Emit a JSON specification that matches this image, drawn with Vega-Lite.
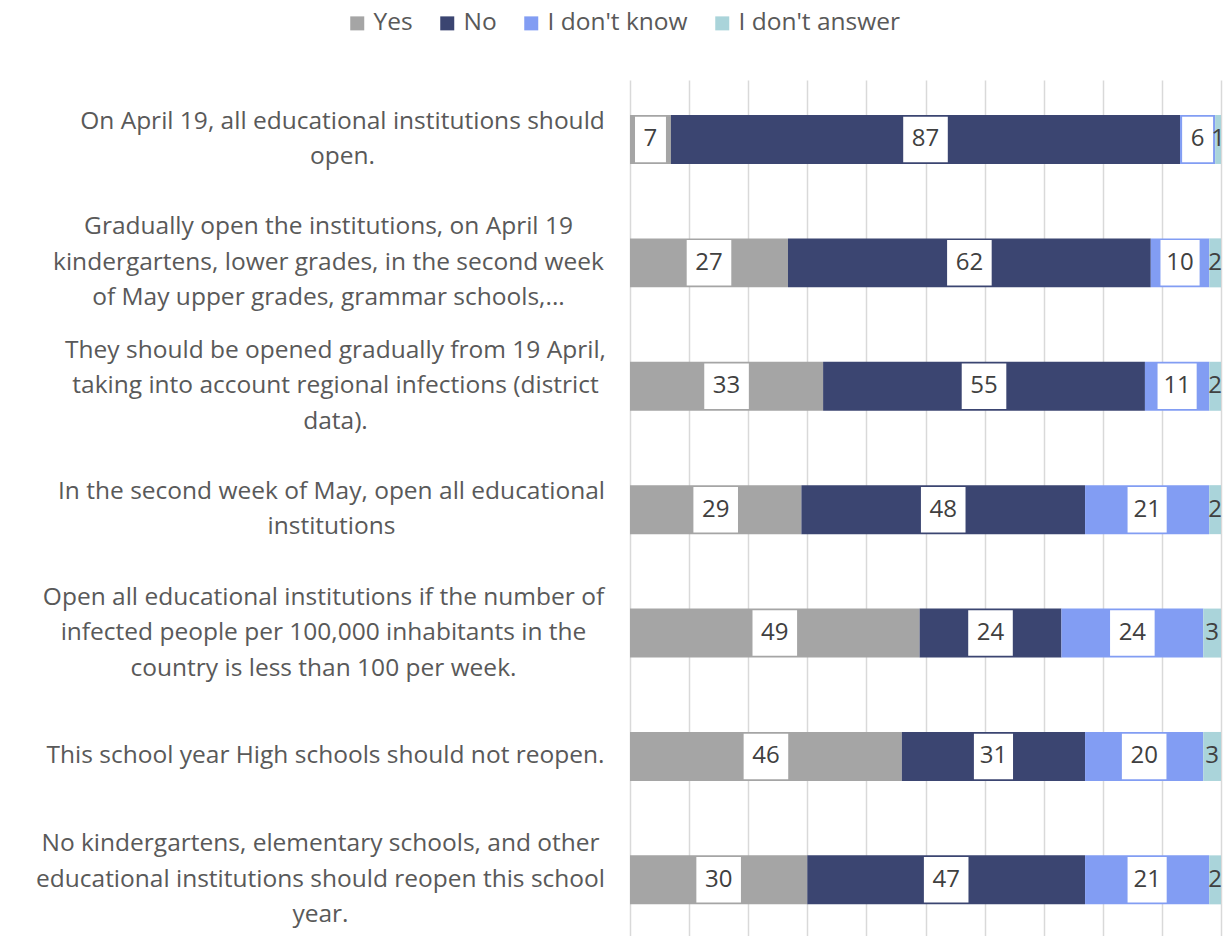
{
  "$schema": "https://vega.github.io/schema/vega-lite/v6.json",
  "width": 591,
  "height": 856,
  "autosize": {"type": "none"},
  "padding": {"left": 630, "top": 80, "right": 3, "bottom": 0},
  "background": "white",
  "config": {"view": {"stroke": null}, "font": "Open Sans"},
  "data": {
    "values": [
      {"question": "On April 19, all educational institutions should|open.", "answer": "Yes", "idx": 1, "value": 7},
      {"question": "On April 19, all educational institutions should|open.", "answer": "No", "idx": 2, "value": 87},
      {"question": "On April 19, all educational institutions should|open.", "answer": "I don't know", "idx": 3, "value": 6},
      {"question": "On April 19, all educational institutions should|open.", "answer": "I don't answer", "idx": 4, "value": 1},
      {"question": "Gradually open the institutions, on April 19|kindergartens, lower grades, in the second week|of May upper grades, grammar schools,...", "answer": "Yes", "idx": 1, "value": 27},
      {"question": "Gradually open the institutions, on April 19|kindergartens, lower grades, in the second week|of May upper grades, grammar schools,...", "answer": "No", "idx": 2, "value": 62},
      {"question": "Gradually open the institutions, on April 19|kindergartens, lower grades, in the second week|of May upper grades, grammar schools,...", "answer": "I don't know", "idx": 3, "value": 10},
      {"question": "Gradually open the institutions, on April 19|kindergartens, lower grades, in the second week|of May upper grades, grammar schools,...", "answer": "I don't answer", "idx": 4, "value": 2},
      {"question": "They should be opened gradually from 19 April,|taking into account regional infections (district|data).", "answer": "Yes", "idx": 1, "value": 33},
      {"question": "They should be opened gradually from 19 April,|taking into account regional infections (district|data).", "answer": "No", "idx": 2, "value": 55},
      {"question": "They should be opened gradually from 19 April,|taking into account regional infections (district|data).", "answer": "I don't know", "idx": 3, "value": 11},
      {"question": "They should be opened gradually from 19 April,|taking into account regional infections (district|data).", "answer": "I don't answer", "idx": 4, "value": 2},
      {"question": "In the second week of May, open all educational|institutions", "answer": "Yes", "idx": 1, "value": 29},
      {"question": "In the second week of May, open all educational|institutions", "answer": "No", "idx": 2, "value": 48},
      {"question": "In the second week of May, open all educational|institutions", "answer": "I don't know", "idx": 3, "value": 21},
      {"question": "In the second week of May, open all educational|institutions", "answer": "I don't answer", "idx": 4, "value": 2},
      {"question": "Open all educational institutions if the number of|infected people per 100,000 inhabitants in the|country is less than 100 per week.", "answer": "Yes", "idx": 1, "value": 49},
      {"question": "Open all educational institutions if the number of|infected people per 100,000 inhabitants in the|country is less than 100 per week.", "answer": "No", "idx": 2, "value": 24},
      {"question": "Open all educational institutions if the number of|infected people per 100,000 inhabitants in the|country is less than 100 per week.", "answer": "I don't know", "idx": 3, "value": 24},
      {"question": "Open all educational institutions if the number of|infected people per 100,000 inhabitants in the|country is less than 100 per week.", "answer": "I don't answer", "idx": 4, "value": 3},
      {"question": "This school year High schools should not reopen.", "answer": "Yes", "idx": 1, "value": 46},
      {"question": "This school year High schools should not reopen.", "answer": "No", "idx": 2, "value": 31},
      {"question": "This school year High schools should not reopen.", "answer": "I don't know", "idx": 3, "value": 20},
      {"question": "This school year High schools should not reopen.", "answer": "I don't answer", "idx": 4, "value": 3},
      {"question": "No kindergartens, elementary schools, and other|educational institutions should reopen this school|year.", "answer": "Yes", "idx": 1, "value": 30},
      {"question": "No kindergartens, elementary schools, and other|educational institutions should reopen this school|year.", "answer": "No", "idx": 2, "value": 47},
      {"question": "No kindergartens, elementary schools, and other|educational institutions should reopen this school|year.", "answer": "I don't know", "idx": 3, "value": 21},
      {"question": "No kindergartens, elementary schools, and other|educational institutions should reopen this school|year.", "answer": "I don't answer", "idx": 4, "value": 2}
    ]
  },
  "encoding": {
    "y": {
      "field": "question",
      "type": "nominal",
      "sort": null,
      "scale": {"paddingInner": 0.603, "paddingOuter": 0.27, "align": 0.525},
      "axis": {
        "title": null,
        "domain": false,
        "ticks": false,
        "grid": false,
        "labelAlign": "center",
        "labelBaseline": "middle",
        "labelFont": "Open Sans",
        "labelFontSize": 24.5,
        "labelColor": "#595959",
        "labelLineHeight": 35.5,
        "labelLimit": 0,
        "labelOverlap": false,
        "labelExpr": "split(datum.label, '|')",
        "labelOffset": {
          "condition": [
            {"test": "indexof(datum.value, 'On April') === 0", "value": -17.75},
            {"test": "indexof(datum.value, 'In the second') === 0", "value": -17.75},
            {"test": "indexof(datum.value, 'This school') === 0", "value": 0}
          ],
          "value": -35.5
        },
        "labelPadding": {
          "condition": [
            {"test": "indexof(datum.value, 'On April') === 0", "value": 288},
            {"test": "indexof(datum.value, 'Gradually') === 0", "value": 302},
            {"test": "indexof(datum.value, 'They should') === 0", "value": 295},
            {"test": "indexof(datum.value, 'In the second') === 0", "value": 299},
            {"test": "indexof(datum.value, 'Open all') === 0", "value": 307},
            {"test": "indexof(datum.value, 'This school') === 0", "value": 305}
          ],
          "value": 310
        }
      }
    },
    "order": {"field": "idx", "type": "quantitative"}
  },
  "layer": [
    {
      "mark": {"type": "bar"},
      "encoding": {
        "x": {
          "field": "value",
          "type": "quantitative",
          "stack": "normalize",
          "scale": {"domain": [0, 1], "nice": false},
          "axis": {"title": null, "labels": false, "ticks": false, "domain": false, "grid": true, "gridColor": "#D9D9D9", "gridWidth": 1.5, "values": [0, 0.1, 0.2, 0.3, 0.4, 0.5, 0.6, 0.7, 0.8, 0.9, 1]}
        },
        "color": {
          "field": "answer",
          "type": "nominal",
          "scale": {
            "domain": ["Yes", "No", "I don't know", "I don't answer"],
            "range": ["#A5A5A5", "#3B4571", "#829DF3", "#AAD4DA"]
          },
          "legend": {
            "orient": "none",
            "legendX": -285,
            "legendY": -69,
            "direction": "horizontal",
            "title": null,
            "symbolType": "square",
            "symbolSize": 196,
            "symbolStrokeWidth": 0,
            "labelFont": "Open Sans",
            "labelFontSize": 24.5,
            "labelColor": "#595959",
            "labelOffset": 4,
            "labelLimit": 0,
            "columnPadding": 22
          }
        }
      }
    },
    {
      "mark": {"type": "point", "filled": true, "color": "white", "strokeWidth": 0, "size": 2070, "opacity": 1},
      "encoding": {
        "x": {"field": "value", "type": "quantitative", "stack": "normalize", "bandPosition": 0.5},
        "shape": {
          "condition": [
            {"test": "datum.value < 10", "value": "M-0.68,-1H0.68V1H-0.68Z"},
            {"test": "indexof('' + datum.value, '1') >= 0", "value": "M-0.86,-1H0.86V1H-0.86Z"}
          ],
          "value": "M-0.98,-1H0.98V1H-0.98Z"
        },
        "opacity": {"condition": {"test": "datum.answer === \"I don't answer\"", "value": 0}, "value": 1}
      }
    },
    {
      "mark": {"type": "text", "font": "Open Sans", "fontSize": 24, "color": "#404040", "baseline": "middle", "align": "center"},
      "encoding": {
        "x": {"field": "value", "type": "quantitative", "stack": "normalize", "bandPosition": 0.5},
        "text": {"field": "value", "type": "quantitative"}
      }
    }
  ]
}
